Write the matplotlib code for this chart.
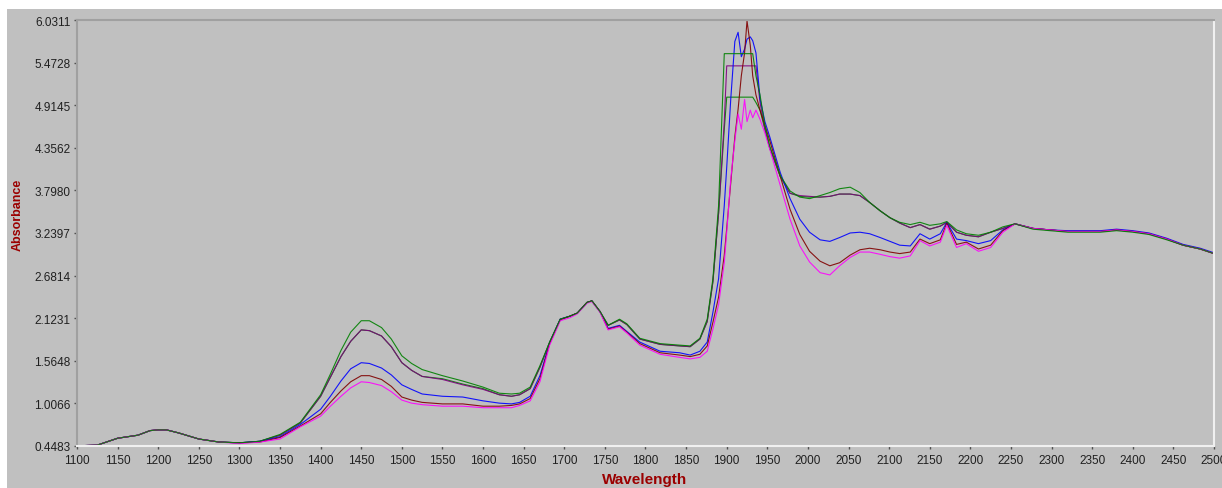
import matplotlib
matplotlib.use("Agg")
import matplotlib.pyplot as plt
from matplotlib.patches import Rectangle

plt.rcParams['font.family'] = ['Liberation Sans', 'DejaVu Sans']

# wavelength grid (nm) shared by all spectra
wavelength = [1100, 1125, 1150, 1175, 1190, 1200, 1210, 1225, 1250, 1275, 1300, 1325, 1350,
              1375, 1400, 1412, 1425, 1437, 1450, 1460, 1475, 1487, 1500, 1512, 1525, 1550,
              1575, 1600, 1620, 1635, 1645, 1658, 1670, 1682, 1695, 1707, 1716, 1728, 1734,
              1744, 1754, 1768, 1777, 1793, 1818, 1842, 1855, 1867, 1876, 1883, 1890, 1897,
              1900, 1905, 1910, 1914, 1918, 1922, 1925, 1929, 1932, 1936, 1941, 1947, 1953,
              1966, 1978, 1990, 2002, 2015, 2027, 2039, 2052, 2064, 2076, 2089, 2101, 2113,
              2126, 2138, 2150, 2163, 2171, 2183, 2195, 2210, 2225, 2240, 2255, 2277, 2298,
              2320, 2340, 2360, 2380, 2400, 2420, 2442, 2462, 2483, 2500]

green_a = [0.45, 0.46, 0.55, 0.59, 0.65, 0.66, 0.66, 0.62, 0.54, 0.50, 0.49, 0.51, 0.60,
           0.76, 1.12, 1.39, 1.70, 1.94, 2.09, 2.09, 2.00, 1.85, 1.63, 1.53, 1.45, 1.37,
           1.30, 1.22, 1.14, 1.13, 1.14, 1.22, 1.50, 1.81, 2.11, 2.15, 2.19, 2.33, 2.35,
           2.21, 2.03, 2.11, 2.05, 1.86, 1.79, 1.77, 1.76, 1.86, 2.11, 2.64, 3.60, 5.59,
           5.59, 5.59, 5.59, 5.59, 5.59, 5.59, 5.59, 5.59, 5.59, 5.30, 5.05, 4.65, 4.38,
           3.99, 3.79, 3.71, 3.69, 3.73, 3.77, 3.82, 3.84, 3.77, 3.64, 3.53, 3.44, 3.38,
           3.35, 3.38, 3.34, 3.36, 3.39, 3.28, 3.23, 3.21, 3.25, 3.32, 3.36, 3.29, 3.27,
           3.25, 3.25, 3.25, 3.27, 3.25, 3.22, 3.15, 3.08, 3.03, 2.97]

green_b = [0.45, 0.46, 0.55, 0.59, 0.65, 0.66, 0.66, 0.62, 0.54, 0.50, 0.49, 0.51, 0.59,
           0.75, 1.10, 1.35, 1.62, 1.82, 1.97, 1.96, 1.89, 1.75, 1.54, 1.44, 1.36, 1.33,
           1.26, 1.20, 1.12, 1.10, 1.12, 1.20, 1.48, 1.81, 2.11, 2.15, 2.19, 2.33, 2.35,
           2.21, 2.03, 2.10, 2.04, 1.85, 1.78, 1.76, 1.75, 1.85, 2.08, 2.60, 3.50, 4.60,
           5.02, 5.02, 5.02, 5.02, 5.02, 5.02, 5.02, 5.02, 5.02, 4.95, 4.85, 4.60, 4.35,
           3.98, 3.76, 3.72, 3.71, 3.71, 3.72, 3.75, 3.75, 3.73, 3.64, 3.53, 3.44, 3.37,
           3.31, 3.35, 3.29, 3.33, 3.38, 3.25, 3.21, 3.19, 3.25, 3.30, 3.36, 3.30, 3.28,
           3.26, 3.26, 3.26, 3.28, 3.26, 3.23, 3.16, 3.08, 3.03, 2.97]

purple = [0.45, 0.46, 0.55, 0.59, 0.65, 0.66, 0.66, 0.62, 0.54, 0.50, 0.49, 0.51, 0.59,
          0.75, 1.10, 1.35, 1.62, 1.82, 1.97, 1.96, 1.89, 1.75, 1.54, 1.44, 1.36, 1.32,
          1.25, 1.19, 1.12, 1.10, 1.12, 1.20, 1.48, 1.81, 2.11, 2.15, 2.19, 2.33, 2.35,
          2.21, 2.03, 2.10, 2.04, 1.85, 1.78, 1.76, 1.75, 1.85, 2.08, 2.60, 3.50, 4.70,
          5.43, 5.43, 5.43, 5.43, 5.43, 5.43, 5.43, 5.43, 5.43, 5.43, 4.95, 4.60, 4.35,
          3.98, 3.76, 3.73, 3.72, 3.71, 3.72, 3.75, 3.75, 3.73, 3.64, 3.53, 3.44, 3.37,
          3.31, 3.35, 3.29, 3.33, 3.38, 3.25, 3.21, 3.19, 3.25, 3.30, 3.36, 3.30, 3.28,
          3.26, 3.26, 3.26, 3.28, 3.26, 3.23, 3.16, 3.08, 3.03, 2.97]

blue = [0.45, 0.46, 0.55, 0.59, 0.65, 0.66, 0.66, 0.62, 0.54, 0.50, 0.49, 0.51, 0.57,
        0.73, 0.93, 1.10, 1.30, 1.46, 1.54, 1.53, 1.47, 1.38, 1.25, 1.19, 1.13, 1.10,
        1.09, 1.04, 1.01, 1.00, 1.02, 1.10, 1.37, 1.80, 2.11, 2.15, 2.19, 2.33, 2.35,
        2.21, 1.99, 2.03, 1.95, 1.81, 1.69, 1.67, 1.64, 1.69, 1.81, 2.20, 2.64, 3.60,
        4.10, 5.00, 5.75, 5.87, 5.55, 5.65, 5.78, 5.81, 5.76, 5.60, 5.00, 4.70, 4.50,
        4.03, 3.69, 3.42, 3.25, 3.15, 3.13, 3.18, 3.24, 3.25, 3.23, 3.18, 3.13, 3.08,
        3.07, 3.23, 3.16, 3.23, 3.38, 3.16, 3.14, 3.10, 3.14, 3.28, 3.36, 3.30, 3.28,
        3.27, 3.27, 3.27, 3.29, 3.27, 3.24, 3.17, 3.09, 3.04, 2.98]

dark_red = [0.45, 0.46, 0.55, 0.59, 0.65, 0.66, 0.66, 0.62, 0.54, 0.50, 0.49, 0.50, 0.56,
            0.71, 0.87, 1.02, 1.17, 1.29, 1.37, 1.37, 1.32, 1.23, 1.09, 1.05, 1.02, 1.00,
            1.00, 0.97, 0.97, 0.98, 1.00, 1.07, 1.33, 1.79, 2.10, 2.15, 2.19, 2.33, 2.35,
            2.21, 1.98, 2.02, 1.94, 1.79, 1.67, 1.64, 1.62, 1.65, 1.76, 2.07, 2.40, 2.95,
            3.30, 3.90, 4.50, 4.86, 5.30, 5.60, 6.02, 5.70, 5.30, 5.05, 4.85, 4.65, 4.45,
            3.98, 3.55, 3.22, 3.00, 2.87, 2.81, 2.85, 2.95, 3.02, 3.04, 3.02, 2.99, 2.97,
            2.99, 3.16, 3.10, 3.15, 3.37, 3.09, 3.12, 3.03, 3.08, 3.27, 3.36, 3.30, 3.28,
            3.26, 3.26, 3.26, 3.28, 3.26, 3.23, 3.16, 3.08, 3.03, 2.97]

magenta = [0.45, 0.46, 0.55, 0.59, 0.65, 0.66, 0.66, 0.62, 0.54, 0.50, 0.48, 0.50, 0.54,
           0.70, 0.84, 0.97, 1.10, 1.21, 1.29, 1.28, 1.24, 1.16, 1.05, 1.01, 0.99, 0.97,
           0.97, 0.95, 0.95, 0.95, 0.98, 1.04, 1.29, 1.77, 2.09, 2.13, 2.18, 2.32, 2.34,
           2.20, 1.97, 2.01, 1.93, 1.77, 1.65, 1.61, 1.59, 1.61, 1.69, 1.98, 2.30, 2.85,
           3.25, 3.95, 4.45, 4.80, 4.60, 4.99, 4.70, 4.85, 4.75, 4.85, 4.73, 4.55, 4.34,
           3.86, 3.42, 3.07, 2.86, 2.72, 2.69, 2.81, 2.92, 2.99, 2.99, 2.96, 2.93, 2.91,
           2.94, 3.14, 3.07, 3.12, 3.34, 3.05, 3.10, 3.00, 3.05, 3.25, 3.36, 3.30, 3.28,
           3.26, 3.26, 3.26, 3.28, 3.26, 3.23, 3.16, 3.08, 3.03, 2.97]

series = [
    (green_b, '#008000'),
    (purple, '#800080'),
    (blue, '#0000ff'),
    (dark_red, '#800000'),
    (magenta, '#ff00ff'),
    (green_a, '#008000'),
]

x_ticks = list(range(1100, 2501, 50))
y_tick_labels = ['0.4483', '1.0066', '1.5648', '2.1231', '2.6814', '3.2397',
                 '3.7980', '4.3562', '4.9145', '5.4728', '6.0311']
y_min, y_max = 0.4483, 6.0311

W, H = 1222, 489
fig = plt.figure(figsize=(W / 100, H / 100), dpi=100)
fig.patch.set_facecolor('white')
# gray panel behind everything
fig.patches.append(Rectangle((7 / W, 0), (W - 7) / W, (H - 10) / H,
                             transform=fig.transFigure, facecolor='#c0c0c0',
                             edgecolor='none', zorder=-10))

left, right, top, bottom = 77, 1214, 21, 447
ax = fig.add_axes([left / W, (H - bottom) / H, (right - left) / W, (bottom - top) / H])
ax.set_zorder(1)
ax.set_facecolor('#c0c0c0')

for vals, color in series:
    ax.plot(wavelength, vals, color=color, lw=0.8, alpha=0.9)

ax.set_xlim(1100, 2500)
ax.set_ylim(y_min, y_max)
step = (y_max - y_min) / 10
ax.set_yticks([y_min + i * step for i in range(11)])
ax.set_yticklabels(y_tick_labels)
ax.set_xticks(x_ticks)
ax.set_xticklabels([str(t) for t in x_ticks])

ax.tick_params(axis='y', labelsize=8.5, length=2.5, width=1, color='#505050',
               labelcolor='#202020', pad=2)
ax.tick_params(axis='x', labelsize=8.5, length=2, width=1, color='#505050',
               labelcolor='#202020', pad=4)

ax.spines['left'].set_color('#a0a0a0')
ax.spines['top'].set_color('#a0a0a0')
ax.spines['right'].set_color('#f0f0f0')
ax.spines['bottom'].set_color('#f0f0f0')
for s in ax.spines.values():
    s.set_linewidth(1.5)

fig.text(18 / W, (H - 215) / H, 'Absorbance', rotation=90, ha='center', va='center',
         fontsize=9, fontweight='bold', color='#9b0000', zorder=2)
fig.text(645 / W, (H - 480) / H, 'Wavelength', ha='center', va='center',
         fontsize=11, fontweight='bold', color='#9b0000', zorder=2)

fig.savefig('out.png', dpi=100, facecolor=fig.get_facecolor())
